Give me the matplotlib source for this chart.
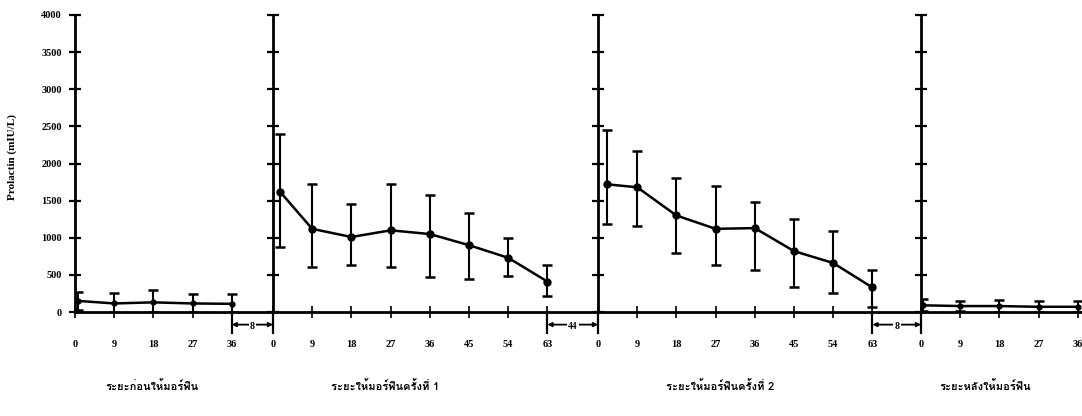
import numpy as np
import matplotlib
matplotlib.use("Agg")
import matplotlib.pyplot as plt
from matplotlib import font_manager
from matplotlib.ft2font import FT2Font

# ระดับโปรแลคติน (mIU/L): ค่าเฉลี่ย และขอบบน/ล่างของ error bar (อ่านจากรูป)
days_before = [0, 9, 18, 27, 36]
mean_before = [150, 115, 130, 115, 110]
upper_before = [270, 250, 290, 240, 240]
lower_before = [30, 0, 0, 0, 0]

days_course = [0, 9, 18, 27, 36, 45, 54, 63]
mean_course1 = [1620, 1120, 1010, 1100, 1050, 900, 730, 410]
upper_course1 = [2400, 1730, 1450, 1730, 1580, 1330, 1000, 630]
lower_course1 = [880, 600, 630, 610, 470, 440, 480, 210]

mean_course2 = [1720, 1680, 1300, 1120, 1130, 820, 660, 330]
upper_course2 = [2450, 2170, 1800, 1700, 1480, 1250, 1090, 560]
lower_course2 = [1190, 1160, 800, 630, 560, 330, 260, 70]

days_after = [0, 9, 18, 27, 36]
mean_after = [90, 80, 80, 70, 70]
upper_after = [170, 150, 160, 150, 150]
lower_after = [20, 10, 0, 0, 0]

phase_labels = ["ระยะก่อนให้มอร์ฟีน", "ระยะให้มอร์ฟีนครั้งที่ 1",
                "ระยะให้มอร์ฟีนครั้งที่ 2", "ระยะหลังให้มอร์ฟีน"]
gap_labels = ["8", "44", "8"]
y_ticks = list(range(0, 4001, 500))
y_label = "Prolactin (mIU/L)"


def find_thai_font():
    # หาฟอนต์ที่มีอักษรไทย
    for f in font_manager.fontManager.ttflist:
        try:
            if ord("ร") in FT2Font(f.fname).get_charmap():
                return f.name
        except Exception:
            pass
    return "DejaVu Sans"


thai_font = find_thai_font()
num_font = dict(family="Liberation Serif", weight="bold")

W, H = 1082, 416
fig = plt.figure(figsize=(W / 100, H / 100), dpi=100)

# ขอบของแต่ละช่วง (พิกเซล) และสเกลแกน x
edges = [75, 273, 598, 921, 1082]
px_per_day = 39.2 / 9
y0_px, ytop_px = 312, 15

panels = [
    (days_before, mean_before, upper_before, lower_before),
    (days_course, mean_course1, upper_course1, lower_course1),
    (days_course, mean_course2, upper_course2, lower_course2),
    (days_after, mean_after, upper_after, lower_after),
]
first_shift = [0.6, 1.6, 2.0, 0.5]
marker_size = [3.5, 5, 5, 3.5]

axes = []
for i, (days, mean, up, lo) in enumerate(panels):
    left, right = edges[i], edges[i + 1]
    ax = fig.add_axes([left / W, 1 - y0_px / H, (right - left) / W, (y0_px - ytop_px) / H])
    axes.append(ax)
    x = np.array(days, dtype=float)
    x[0] += first_shift[i]
    m = np.array(mean)
    yerr = [m - np.array(lo), np.array(up) - m]
    ax.errorbar(x, m, yerr=yerr, color="black", lw=1.8, marker="o", ms=marker_size[i],
                elinewidth=1.5, capsize=3.5, capthick=1.8, zorder=3)
    ax.set_xlim(0, (right - left) / px_per_day)
    ax.set_ylim(0, 4000)
    ax.set_xticks(days)
    ax.set_yticks(y_ticks)
    for s in ["top", "right"]:
        ax.spines[s].set_visible(False)
    for s in ["left", "bottom"]:
        ax.spines[s].set_linewidth(2)
    ax.tick_params(axis="y", direction="inout", length=9, width=1.6, pad=5)
    ax.tick_params(axis="x", direction="inout", length=8, width=1.2, pad=16)
    ax.patch.set_alpha(0)
    ax.set_xticklabels([str(d) for d in days], fontsize=7.5, **num_font)
    if i == 0:
        ax.set_yticklabels([str(v) for v in y_ticks], fontsize=7.5, **num_font)
    else:
        ax.set_yticklabels([])

# ช่องว่างระหว่างช่วง (ลูกศรใต้แกน x)
for i, gap in enumerate(gap_labels):
    ax = axes[i]
    x_start = panels[i][0][-1]
    x_end = ax.get_xlim()[1]
    for xv in (x_start, x_end):
        ax.plot([xv, xv], [0, -280], color="black", lw=1.6, clip_on=False)
    ax.annotate("", xy=(x_start, -170), xytext=(x_end, -170),
                arrowprops=dict(arrowstyle="<|-|>", color="black", lw=1.3,
                                mutation_scale=6, shrinkA=0, shrinkB=0),
                annotation_clip=False)
    ax.text((x_start + x_end) / 2, -190, gap, ha="center", va="center", fontsize=7,
            bbox=dict(facecolor="white", edgecolor="none", pad=1), clip_on=False, **num_font)

fig.text(12 / W, 1 - 157 / H, y_label, rotation=90, ha="center", va="center",
         fontsize=8, **num_font)

label_x = [152, 385, 720, 985]
for lx, text in zip(label_x, phase_labels):
    fig.text(lx / W, 1 - 387 / H, text, ha="center", va="center", fontsize=8,
             fontweight="bold", family=[thai_font, "DejaVu Sans"])

fig.savefig("out.png", dpi=100, facecolor="white")
